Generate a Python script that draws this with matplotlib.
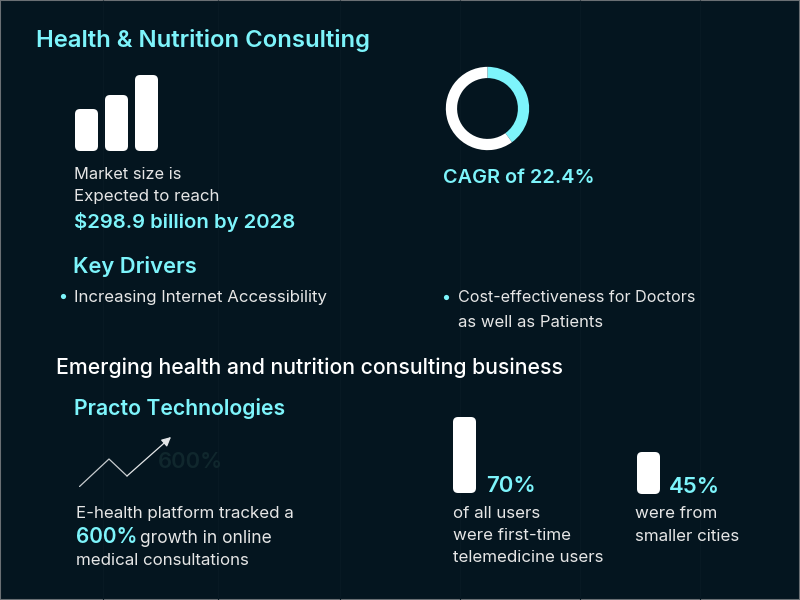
import matplotlib
matplotlib.use('Agg')
import matplotlib.pyplot as plt
from matplotlib.patches import FancyBboxPatch, Rectangle

plt.rcParams['font.family'] = ['Inter', 'DejaVu Sans']

BG = '#04151f'
CYAN = '#7df4fb'
WHITE = '#ffffff'
TEXT = '#e6e6e6'
GHOST = '#10272d'
GRID = '#081923'
W, H = 800, 600

# donnees
market_bars = [42, 56, 76]
donut_share = [40, 60]
users_bar = [76]
cities_bar = [42]
trend_x = [0, 30, 48, 92]
trend_y = [0, 28, 11, 50]
grid_lines = [103, 218, 340, 460, 580, 700]


def pixel_axes(fig, x, y, w, h):
    # rectangle donne en pixels depuis le haut gauche
    ax = fig.add_axes([x / W, 1 - (y + h) / H, w / W, h / H])
    ax.set_axis_off()
    ax.patch.set_alpha(0)
    return ax


def rounded_bars(ax, values, width, gap, radius=5):
    for i, v in enumerate(values):
        left = i * (width + gap)
        ax.add_patch(FancyBboxPatch((left + radius, radius), width - 2 * radius, v - 2 * radius,
                                    boxstyle=f'round,pad={radius},rounding_size={radius}',
                                    fc=WHITE, ec='none'))


fig = plt.figure(figsize=(W / 100, H / 100), dpi=100, facecolor=BG)
bg = fig.add_axes([0, 0, 1, 1])
bg.set_xlim(0, W)
bg.set_ylim(H, 0)
bg.set_axis_off()
bg.add_patch(Rectangle((0, 0), W, H, fc=BG, ec='#6a6f73', lw=1.5))
bg.vlines(grid_lines, 0, H, color=GRID, lw=0.8)


def txt(x, y, s, size=12.2, color=TEXT, weight='normal', **kw):
    return bg.text(x, y, s, fontsize=size, color=color, fontweight=weight, va='baseline', **kw)


txt(36, 47, 'Health & Nutrition Consulting', 17.2, CYAN, 'semibold')

# barres marche
ax = pixel_axes(fig, 75, 75, 83, 76)
ax.set_xlim(0, 83)
ax.set_ylim(0, 76)
rounded_bars(ax, market_bars, 23, 7)

txt(74, 179, 'Market size is', 11.8)
txt(74, 201, 'Expected to reach')
txt(74, 228, '$298.9 billion by 2028', 14.6, CYAN, 'semibold')

# anneau CAGR
ax = pixel_axes(fig, 445, 66, 85, 85)
ax.pie(donut_share, colors=[CYAN, WHITE], startangle=90, counterclock=False,
       radius=1.0, wedgeprops=dict(width=0.27))
ax.set_xlim(-1.02, 1.02)
ax.set_ylim(-1.02, 1.02)

txt(443, 183, 'CAGR of 22.4%', 14.3, CYAN, 'semibold')

txt(73, 273, 'Key Drivers', 15.8, CYAN, 'semibold')
bg.scatter([63, 446], [296, 297], s=14, color=CYAN, zorder=3, linewidths=0)
txt(74, 302, 'Increasing Internet Accessibility', 12.1)
txt(458, 302, 'Cost-effectiveness for Doctors', 11.6)
txt(458, 327, 'as well as Patients', 12)

txt(56, 374, 'Emerging health and nutrition consulting business', 15.3, WHITE, 'medium')
txt(74, 415, 'Practo Technologies', 15.3, CYAN, 'semibold')

# fleche de croissance
ax = pixel_axes(fig, 79, 437, 92, 50)
ax.set_xlim(0, 92)
ax.set_ylim(0, 50)
ax.plot(trend_x[:3], trend_y[:3], color='#c8cccf', lw=0.9, solid_capstyle='round')
ax.annotate('', xy=(trend_x[3], trend_y[3]), xytext=(trend_x[2], trend_y[2]), annotation_clip=False,
            arrowprops=dict(arrowstyle='-|>,head_length=0.5,head_width=0.25', color='#e4e6e8', lw=0.9,
                            mutation_scale=11, shrinkA=0, shrinkB=0))
txt(158, 468, '600%', 15.8, GHOST, 'semibold')

txt(76, 518, 'E-health platform tracked a')
txt(76, 543, '600%', 15, CYAN, 'semibold')
txt(140, 543, 'growth in online', 12.5)
txt(76, 565, 'medical consultations')

# barres utilisateurs
ax = pixel_axes(fig, 453, 417, 23, 76)
ax.set_xlim(0, 23)
ax.set_ylim(0, 76)
rounded_bars(ax, users_bar, 23, 0)
txt(486, 492, '70%', 16, CYAN, 'semibold')
txt(453, 518, 'of all users')
txt(453, 540, 'were first-time')
txt(453, 562, 'telemedicine users')

ax = pixel_axes(fig, 637, 452, 23, 42)
ax.set_xlim(0, 23)
ax.set_ylim(0, 42)
rounded_bars(ax, cities_bar, 23, 0)
txt(669, 493, '45%', 16, CYAN, 'semibold')
txt(635, 518, 'were from')
txt(635, 541, 'smaller cities')

fig.savefig('out.png', dpi=100, facecolor=BG)
